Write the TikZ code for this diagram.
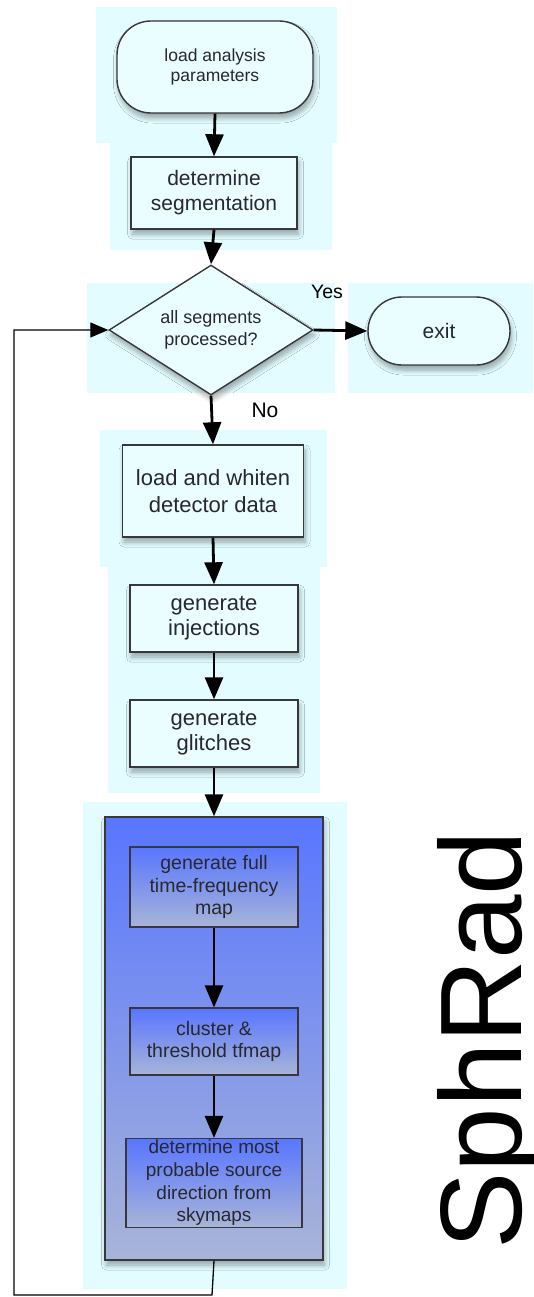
\documentclass[tikz,border=0pt]{standalone}
\usepackage{fontspec}
\setmainfont{Liberation Sans}
\usetikzlibrary{shadows,shadows.blur,arrows.meta,shapes.geometric}
\definecolor{cyanbg}{RGB}{226,252,255}
\definecolor{boxfill}{RGB}{234,253,255}
\definecolor{edgegray}{RGB}{55,55,60}
\definecolor{txtgray}{RGB}{40,40,45}
\definecolor{bluetop}{RGB}{88,118,255}
\definecolor{bluebot}{RGB}{168,180,216}
\begin{document}
\begin{tikzpicture}[x=1pt,y=-1pt,
  shd/.style={blur shadow={shadow xshift=1.5pt,shadow yshift=-5pt,shadow blur radius=5pt,shadow blur steps=8,shadow opacity=35}},
  flowbox/.style={draw=edgegray,line width=1.4pt,fill=boxfill,shd,inner sep=0pt,align=center,text=txtgray},
  term/.style={flowbox,rounded corners=34pt},
  decis/.style={flowbox,diamond,aspect=1.57},
  innerbox/.style={draw=edgegray,line width=1.2pt,top color=bluetop,bottom color=bluebot,inner sep=0pt,align=center,text=txtgray},
  bigbox/.style={draw=edgegray,line width=1.4pt,top color=bluetop,bottom color=bluebot,shd},
  flow/.style={line width=2.8pt,draw=black,-{Triangle[length=22pt,width=18pt]}},
  loop/.style={line width=1.3pt,draw=black},
  loopend/.style={loop,-{Triangle[length=18pt,width=15pt]}},
  lab/.style={inner sep=0pt,text=black}
]
\useasboundingbox (0,0) rectangle (533,1297);
% light cyan backdrops
\fill[cyanbg] (96,7) rectangle (337,143);
\fill[cyanbg] (110,143) rectangle (332,250);
\fill[cyanbg] (87,283) rectangle (335,393);
\fill[cyanbg] (348,283) rectangle (533,393);
\fill[cyanbg] (100,430) rectangle (327,567);
\fill[cyanbg] (108,567) rectangle (320,793);
\fill[cyanbg] (83,802) rectangle (347,1289);

\node[term,minimum width=196pt,minimum height=92pt,font=\fontsize{17.5}{20.5}\selectfont] (t1) at (215,67) {load analysis\\parameters};
\node[flowbox,minimum width=166pt,minimum height=72pt,font=\fontsize{21}{25}\selectfont] (seg) at (214,193) {determine\\segmentation};
\node[decis,minimum width=204pt,minimum height=130pt,font=\fontsize{18}{22}\selectfont] (dia) at (211,330) {all segments\\processed?};
\node[term,minimum width=142pt,minimum height=68pt,font=\fontsize{21}{25}\selectfont] (exit) at (439,331) {exit};
\node[flowbox,minimum width=181pt,minimum height=92pt,font=\fontsize{22}{26.5}\selectfont] (wh) at (213,491) {load and whiten\\detector data};
\node[flowbox,minimum width=168pt,minimum height=67pt,font=\fontsize{22}{25}\selectfont] (inj) at (214,618.5) {generate\\injections};
\node[flowbox,minimum width=168pt,minimum height=67pt,font=\fontsize{22}{25}\selectfont] (gl) at (214,733.5) {generate\\glitches};

\node[bigbox,minimum width=218pt,minimum height=443pt,inner sep=0pt] (big) at (214,1038.5) {};
\node[innerbox,minimum width=168pt,minimum height=80pt,font=\fontsize{19.5}{22.5}\selectfont] (in1) at (214,887) {generate full\\time-frequency\\map};
\node[innerbox,minimum width=168pt,minimum height=67pt,font=\fontsize{19.5}{22}\selectfont] (in2) at (214,1041.5) {cluster \&\\threshold tfmap};
\node[innerbox,minimum width=176pt,minimum height=89pt,font=\fontsize{19}{22.7}\selectfont] (in3) at (214,1183) {determine most\\probable source\\direction from\\skymaps};

\node[lab,font=\fontsize{19.5}{22}\selectfont] (yes) at (327,292) {Yes};
\node[lab,font=\fontsize{21}{24}\selectfont] (no) at (265,410) {No};

\node[rotate=90,anchor=base,inner sep=0pt,font=\fontsize{116}{120}\selectfont] (title) at (521,1040) {SphRad};

\draw[flow] (t1.south) -- (seg.north);
\draw[flow] (seg.south) -- (dia.north);
\draw[flow] (dia.east) -- (exit.west);
\draw[flow] (dia.south) -- (wh.north);
\draw[flow] (wh.south) -- (inj.north);
\draw[flow] (inj.south) -- (gl.north);
\draw[flow] (gl.south) -- (big.north);
\draw[flow] (in1.south) -- (in2.north);
\draw[flow] (in2.south) -- (in3.north);

\coordinate (lb) at (212,1295);
\coordinate (ll) at (14,1295);
\coordinate (lt) at (14,330);
\draw[loopend] (big.south) -- (lb) -- (ll) -- (lt) -- (dia.west);
\end{tikzpicture}
\end{document}
